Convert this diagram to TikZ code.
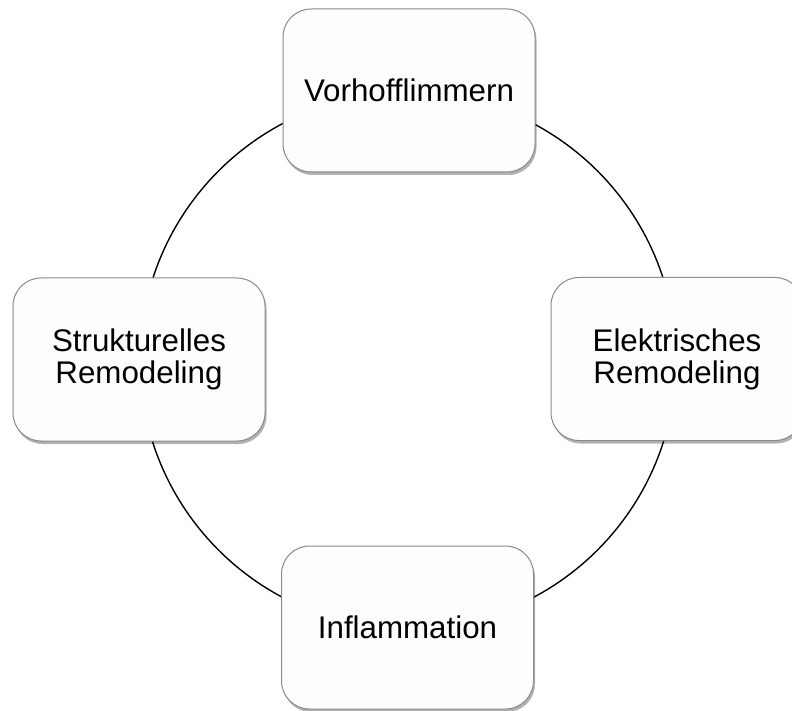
\documentclass[tikz,border=0pt]{standalone}
\usepackage{fontspec}
\setmainfont{Liberation Sans}
\usetikzlibrary{shadows}
\definecolor{boxline}{HTML}{8A8A8A}
\definecolor{boxfill}{HTML}{FDFDFD}
\tikzset{
  stage/.style={draw=boxline, line width=1pt, fill=boxfill, rounded corners=28pt,
    minimum width=252pt, minimum height=163pt, align=center, inner sep=0pt,
    font=\fontsize{31.3}{32}\selectfont,
    drop shadow={shadow xshift=1.5pt, shadow yshift=-3pt, opacity=0.3, fill=black}},
  ring/.style={line width=1.4pt, draw=black}
}
\begin{document}
\begin{tikzpicture}[x=1pt,y=-1pt]
\useasboundingbox (0,0) rectangle (792,711);
\coordinate (c) at (408,360.5);
\draw[ring] (c) circle (268pt);
\node[stage] (top) at (409,90.5) {Vorhofflimmern};
\node[stage] (right) at (677,359) {Elektrisches\\Remodeling};
\node[stage] (bottom) at (407.5,627.5) {Inflammation};
\node[stage] (left) at (139,359.5) {Strukturelles\\Remodeling};
\end{tikzpicture}
\end{document}
